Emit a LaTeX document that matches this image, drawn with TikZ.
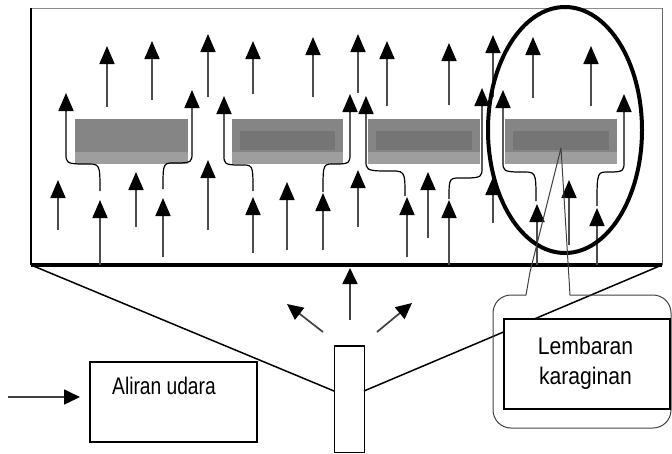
\documentclass[tikz,border=0pt]{standalone}
\usepackage{fontspec}
\setmainfont{Liberation Sans}
\newfontfamily\boxfont[FakeStretch=0.88]{Liberation Sans}
\newfontfamily\flowfont[FakeStretch=0.80]{Liberation Sans}
\usetikzlibrary{arrows.meta}

\tikzset{
  flow/.style={-{Triangle[width=15pt,length=18pt,color=black]}, line width=1.7pt, draw=black!70},
  smallflow/.style={-{Triangle[width=15pt,length=16pt,color=black]}, line width=1.7pt, draw=black!75},
  stream/.style={line width=1.2pt, draw=black},
  sheetouter/.style={fill=black!48, draw=none},
  sheetband/.style={fill=black!38, draw=none},
  sheetinner/.style={fill=black!54, draw=none},
  frame/.style={line width=1.5pt, draw=black},
  labelbox/.style={draw=black, line width=1.6pt},
  boxtext/.style={inner sep=0pt, font=\boxfont\fontsize{24}{30}\selectfont},
  flowtext/.style={inner sep=0pt, font=\flowfont\fontsize{24}{30}\selectfont}
}

\begin{document}
\begin{tikzpicture}[x=1pt,y=-1pt]
\useasboundingbox (0,0) rectangle (672,453);

% chamber
\coordinate (tl) at (31,8);
\coordinate (tr) at (662,8);
\coordinate (bl) at (31,265);
\coordinate (br) at (662,265);
\draw[line width=0.8pt, draw=black!45] (tl) -- (tr);
\draw[line width=1pt, draw=black!60] (tr) -- (br);
\draw[line width=1.8pt] (tl) -- (bl);
\draw[line width=3.2pt] (bl) -- (br);

% carrageenan sheets
\foreach \xa/\xb [count=\i] in {75/188, 232/343, 368/480, 505/617}{
  \fill[sheetouter] (\xa,119) rectangle (\xb,164);
  \fill[sheetband] (\xa,152) rectangle (\xb,164);
  \ifnum\i>1
    \fill[sheetinner] (\xa+8,131) rectangle (\xb-8,150);
  \fi
}
\coordinate (sheetmid) at (561,148);

% upper stream arrows
\foreach \x/\tip/\tail in {107/46/107, 152/41/100, 208/34/97, 253/41/94,
    313/37/97, 358/34/93, 387/41/106, 449/43/105, 493/35/97, 533/37/98, 591/46/106}{
  \draw[flow] (\x,\tail) -- (\x,\tip);
}

% lower stream arrows
\foreach \x/\tip/\tail in {58/180/230, 100/200/265, 136/172/227, 163/198/257,
    208/160/230, 253/197/253, 287/182/250, 323/193/250, 358/170/227,
    407/197/257, 428/172/238, 449/200/265, 493/177/223, 537/204/265,
    569/180/245, 597/208/265}{
  \draw[flow] (\x,\tail) -- (\x,\tip);
}

% streams bending round the sheet edges
\foreach \xs/\ys/\lev/\xe/\tip in {100/191/164/66/93, 163/189/163/192/90,
    253/191/165/224/96, 323/192/164/350/94, 405/196/171/366/96,
    449/199/178/482/88, 536/201/172/503/90, 597/206/172/624/94}{
  \draw[stream] (\xs,\ys) .. controls (\xs,\lev-2) and (\xs,\lev) .. ({(\xs+\xe)/2},\lev)
     .. controls (\xe,\lev) and (\xe,\lev-2) .. (\xe,\lev-10) -- (\xe,\tip+16);
  \draw[flow] (\xe,\tip+18) -- (\xe,\tip);
}

% highlight ellipse
\draw[line width=4pt] (565,130) ellipse [x radius=77, y radius=123];

% nozzle and spread lines
\node[draw, line width=1.3pt, minimum width=30pt, minimum height=106pt, inner sep=0pt,
      anchor=north west] (nozzle) at (334,346) {};
\draw[line width=2pt] (nozzle.north west) -- (nozzle.north east);
\coordinate (nl) at (334,391);
\coordinate (nr) at (364,391);
\draw[frame] (bl) -- (nl);
\draw[frame] (br) -- (nr);

% jets from the nozzle
\coordinate (j0) at (350,320); \coordinate (j0t) at (350,268);
\coordinate (j1) at (323,332); \coordinate (j1t) at (287,304);
\coordinate (j2) at (377,332); \coordinate (j2t) at (412,303);
\draw[smallflow] (j0) -- (j0t);
\draw[smallflow] (j1) -- (j1t);
\draw[smallflow] (j2) -- (j2t);

% callout
\draw[line width=1pt, draw=black!75] (sheetmid) -- (530,272) -- (526,295)
  [rounded corners=18pt] -- (493,295) -- (493,428) -- (671,428) -- (671,295)
  [sharp corners] -- (570,295) -- (sheetmid);

% labels
\node[labelbox, minimum width=166pt, minimum height=90pt, anchor=north west, inner sep=0pt,
      fill=white] (sheetbox) at (503,318) {};
\node[boxtext, anchor=base] (lbl1) at (585.5,354) {Lembaran};
\node[boxtext, anchor=base] (lbl2) at (585.5,384) {karaginan};

\node[labelbox, minimum width=167pt, minimum height=80pt, anchor=north west, inner sep=0pt]
      (airbox) at (89,361) {};
\node[flowtext, anchor=base west] (airlbl) at (112,394) {Aliran udara};

\coordinate (inflow) at (8,397);
\coordinate (inflowend) at (80,397);
\draw[smallflow] (inflow) -- (inflowend);
\end{tikzpicture}
\end{document}
